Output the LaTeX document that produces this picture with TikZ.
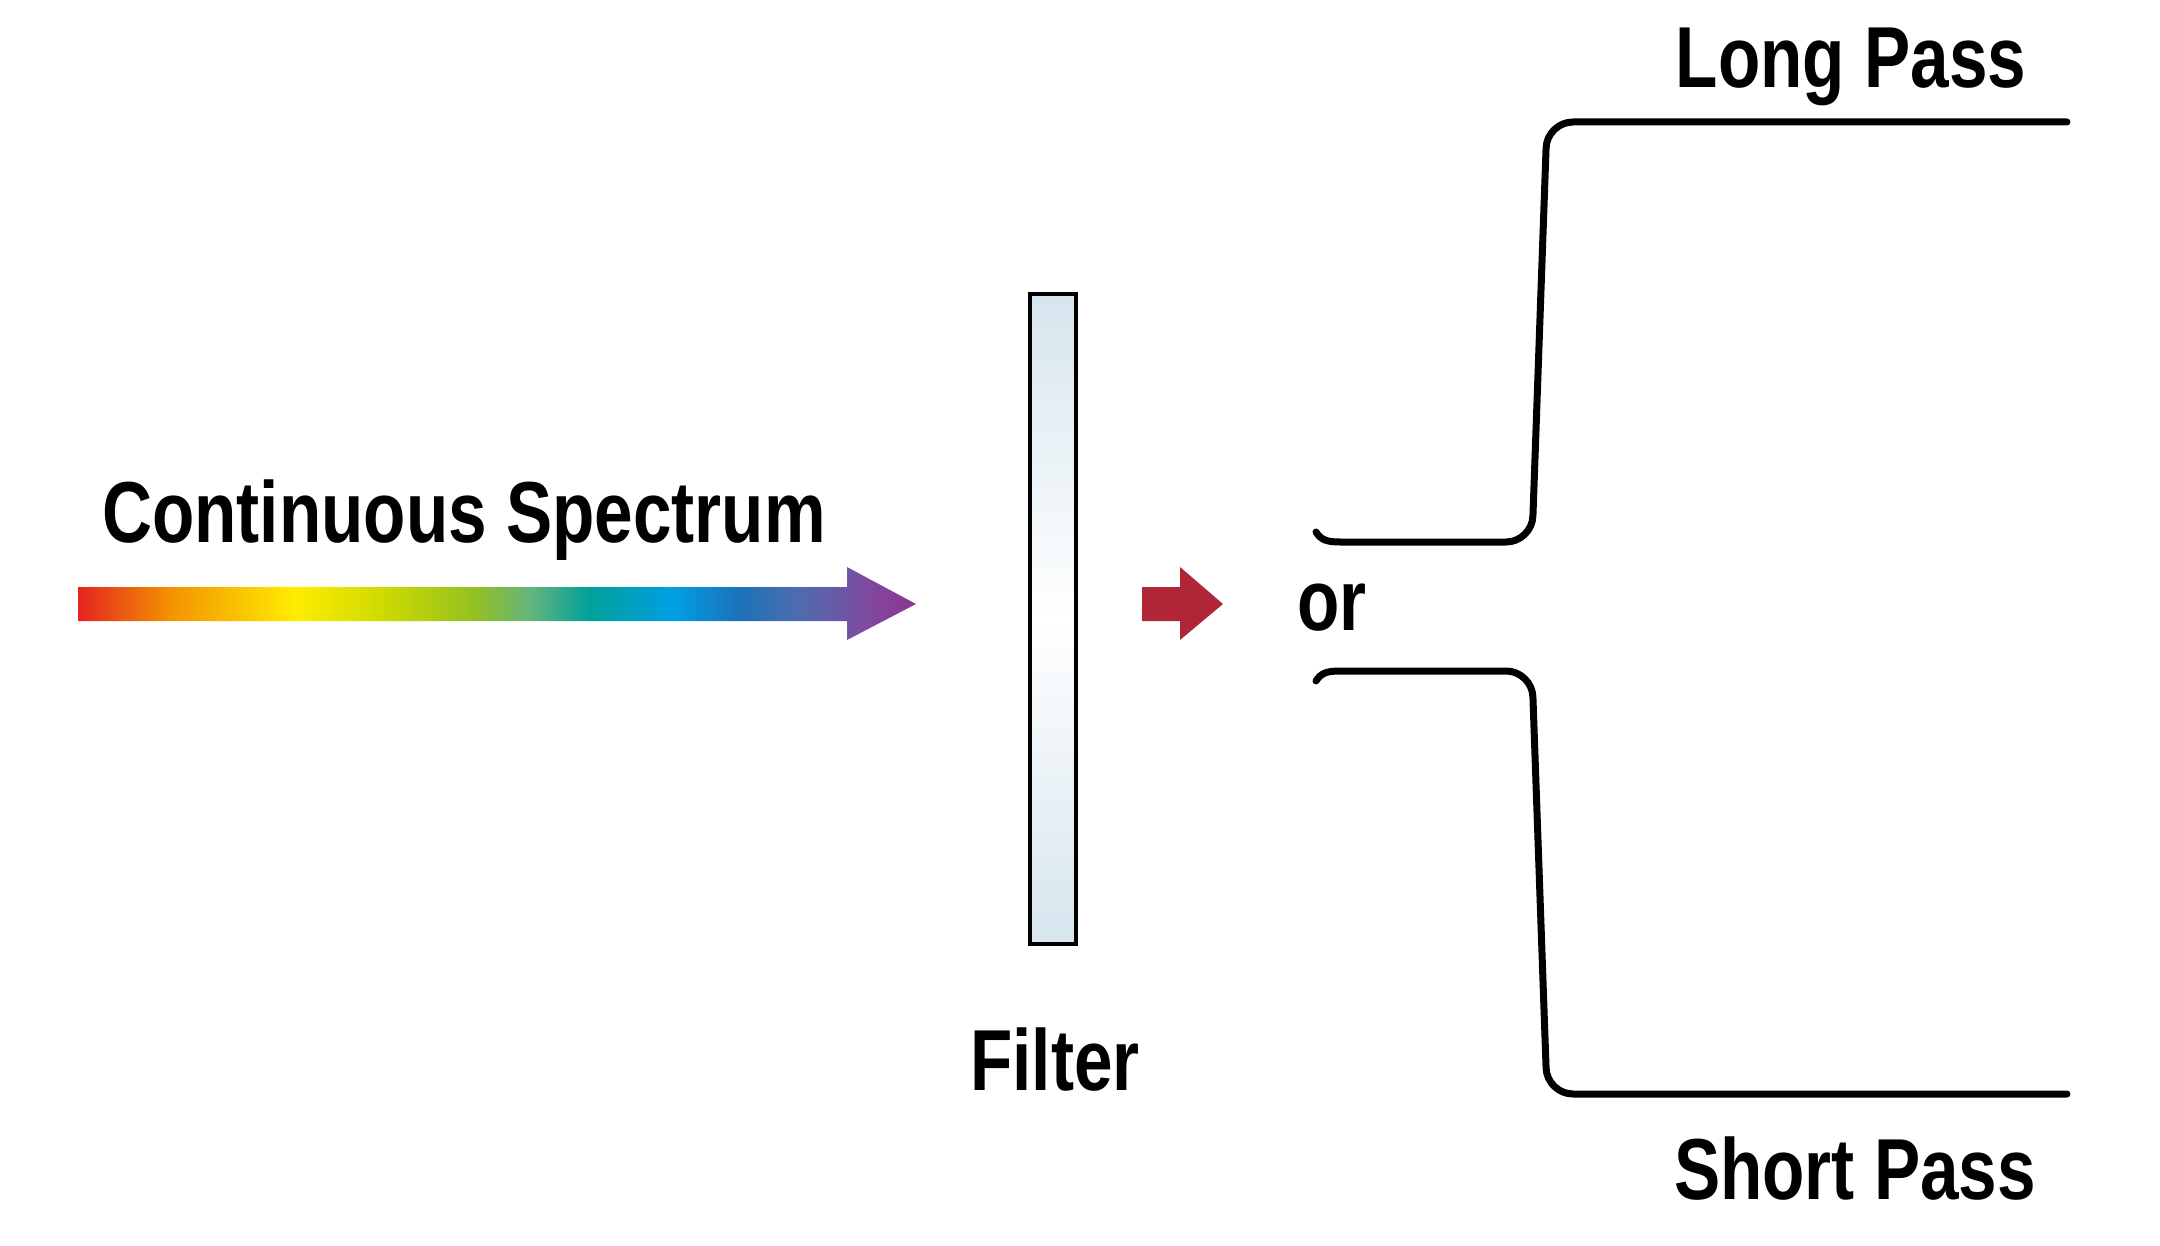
\documentclass[tikz,border=0pt]{standalone}
\usepackage{fontspec}
\newfontfamily\lblfont[FakeStretch=0.8]{Liberation Sans}
\definecolor{cRed}{RGB}{229,36,33}
\definecolor{cOrange}{RGB}{243,146,0}
\definecolor{cYellow}{RGB}{255,237,0}
\definecolor{cYGreen}{RGB}{208,219,0}
\definecolor{cGreen}{RGB}{149,193,31}
\definecolor{cLGreen}{RGB}{100,180,125}
\definecolor{cTeal}{RGB}{0,161,154}
\definecolor{cCyan}{RGB}{0,159,227}
\definecolor{cBlue}{RGB}{29,113,184}
\definecolor{cSlate}{RGB}{78,108,174}
\definecolor{cPurple}{RGB}{126,74,159}
\definecolor{cMagenta}{RGB}{142,53,146}
\definecolor{arrowred}{RGB}{176,38,56}
\definecolor{filterblue}{RGB}{214,229,238}
\pgfdeclarehorizontalshading{rainbow}{100bp}{color(0bp)=(cRed); color(25bp)=(cRed); color(30.5bp)=(cOrange); color(38bp)=(cYellow); color(43bp)=(cYGreen); color(48.5bp)=(cGreen); color(52bp)=(cLGreen); color(55.5bp)=(cTeal); color(60.5bp)=(cCyan); color(64.5bp)=(cBlue); color(68bp)=(cSlate); color(72bp)=(cPurple); color(75bp)=(cMagenta); color(100bp)=(cMagenta)}
\tikzset{
  lbl/.style={font=\lblfont\bfseries\fontsize{43.3}{50}\selectfont, inner sep=0pt, anchor=base},
  curve/.style={line width=3.5pt, line cap=round, line join=round},
}
\begin{document}
\begin{tikzpicture}[x=0.5pt,y=-0.5pt]
\useasboundingbox (0,0) rectangle (2160,1246);
% rainbow arrow
\shade[shading=rainbow] (78,587) -- (847,587) -- (847,567) -- (916,604) -- (847,640) -- (847,621) -- (78,621) -- cycle;
\node[lbl] (cs) at (464,542) {Continuous Spectrum};
% filter
\shade[top color=filterblue, bottom color=filterblue, middle color=white] (1030,294) rectangle (1076,944);
\draw[line width=2.3pt] (1030,294) rectangle (1076,944);
\node[lbl] (filter) at (1055,1090) {Filter};
% red arrow
\fill[arrowred] (1142,587) -- (1180,587) -- (1180,567) -- (1223,604) -- (1180,640) -- (1180,621) -- (1142,621) -- cycle;
\node[lbl] (or) at (1332,630) {or};
% long pass curve
\draw[curve] (1316,532) .. controls (1321,540) and (1327,542) .. (1340,542) [rounded corners=13pt] -- (1532,542) -- (1547,122) -- (2067,122);
% short pass curve
\draw[curve] (1316,681) .. controls (1321,673) and (1327,671) .. (1340,671) [rounded corners=13pt] -- (1532,671) -- (1547,1094) -- (2067,1094);
\node[lbl] (lp) at (1851,88) {Long Pass};
\node[lbl] (sp) at (1855,1199) {Short Pass};
\end{tikzpicture}
\end{document}
